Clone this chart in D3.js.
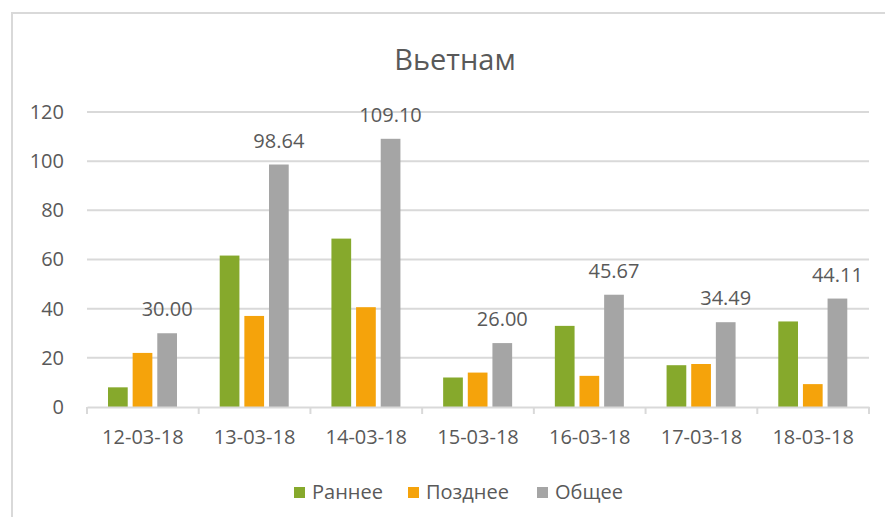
<!DOCTYPE html>
<html>
<head>
<meta charset="utf-8">
<script src="https://cdn.jsdelivr.net/npm/d3@7"></script>
<style>
  body { margin: 0; background: #fff; }
  text { font-family: "Open Sans", "Noto Sans", sans-serif; fill: #595959; }
</style>
</head>
<body>
<div class="chart"></div>
<script>
// chart size and plot box
const w = 885;
const h = 517;
const plotL = 87, plotR = 869, plotT = 112, plotB = 407;

// data
const dates = ["12-03-18", "13-03-18", "14-03-18", "15-03-18", "16-03-18", "17-03-18", "18-03-18"];
const series = ["Раннее", "Позднее", "Общее"];
const early = [8.0, 61.6, 68.5, 12.0, 33.0, 17.0, 34.8];
const late = [22.0, 37.04, 40.6, 14.0, 12.67, 17.49, 9.31];
const total = [30.00, 98.64, 109.10, 26.00, 45.67, 34.49, 44.11];
const yTicks = [0, 20, 40, 60, 80, 100, 120];
const colors = ["#86a92c", "#f5a30b", "#a5a5a5"];

const values = [early, late, total];

const svg = d3.select(".chart").append("svg")
  .attr("width", w)
  .attr("height", h);

// outer chart border
svg.append("rect")
  .attr("x", 12).attr("y", 13)
  .attr("width", w + 10).attr("height", h + 10)
  .attr("fill", "none")
  .attr("stroke", "#d9d9d9")
  .attr("stroke-width", 2);

// title
svg.append("text")
  .attr("x", 455).attr("y", 70)
  .attr("text-anchor", "middle")
  .style("font-size", "29px")
  .text("Вьетнам");

// scales
const x0 = d3.scaleBand().domain(dates).range([plotL, plotR]);
const x1 = d3.scaleBand().domain(series).range([21, 90]).paddingInner(0.2);
const y = d3.scaleLinear().domain([0, 120]).range([plotB, plotT]);

// gridlines + y labels
const yAxis = svg.append("g")
  .call(d3.axisLeft(y).tickValues(yTicks).tickSize(0).tickPadding(0))
  .attr("transform", "translate(" + (plotL - 23) + ",0)");
yAxis.select(".domain").remove();
yAxis.selectAll("text")
  .style("font-size", "20px")
  .attr("fill", "#595959");

svg.append("g")
  .selectAll("line")
  .data(yTicks.slice(1))
  .enter()
  .append("line")
  .attr("x1", plotL).attr("x2", plotR)
  .attr("y1", d => y(d)).attr("y2", d => y(d))
  .attr("stroke", "#d9d9d9")
  .attr("stroke-width", 2);

// bars
dates.forEach((dt, i) => {
  const g = svg.append("g").attr("transform", "translate(" + x0(dt) + ",0)");
  series.forEach((s, k) => {
    const v = values[k][i];
    g.append("rect")
      .attr("x", x1(s))
      .attr("y", y(v))
      .attr("width", x1.bandwidth())
      .attr("height", y(0) - y(v))
      .attr("fill", colors[k]);
  });
  // data label on total bar
  g.append("text")
    .attr("x", x1("Общее") + x1.bandwidth() / 2)
    .attr("y", y(total[i]) - 17)
    .attr("text-anchor", "middle")
    .style("font-size", "20px")
    .text(total[i].toFixed(2));
});

// x axis with category ticks
const xAxis = svg.append("g")
  .attr("transform", "translate(0," + plotB + ")")
  .call(d3.axisBottom(x0).tickSize(0).tickPadding(23));
xAxis.select(".domain").attr("stroke", "#d9d9d9").attr("stroke-width", 2);
xAxis.selectAll("text").style("font-size", "20px").attr("fill", "#595959");

svg.append("g")
  .selectAll("line")
  .data(dates.concat(["end"]))
  .enter()
  .append("line")
  .attr("x1", (d, i) => i < dates.length ? x0(d) : plotR)
  .attr("x2", (d, i) => i < dates.length ? x0(d) : plotR)
  .attr("y1", plotB).attr("y2", plotB + 7)
  .attr("stroke", "#d9d9d9")
  .attr("stroke-width", 2);

// legend
const legendX = [294, 408, 537];
const legend = svg.append("g");
series.forEach((s, k) => {
  legend.append("rect")
    .attr("x", legendX[k]).attr("y", 487)
    .attr("width", 11).attr("height", 11)
    .attr("fill", colors[k]);
  legend.append("text")
    .attr("x", legendX[k] + 18).attr("y", 499)
    .style("font-size", "20px")
    .text(s);
});
</script>
</body>
</html>
